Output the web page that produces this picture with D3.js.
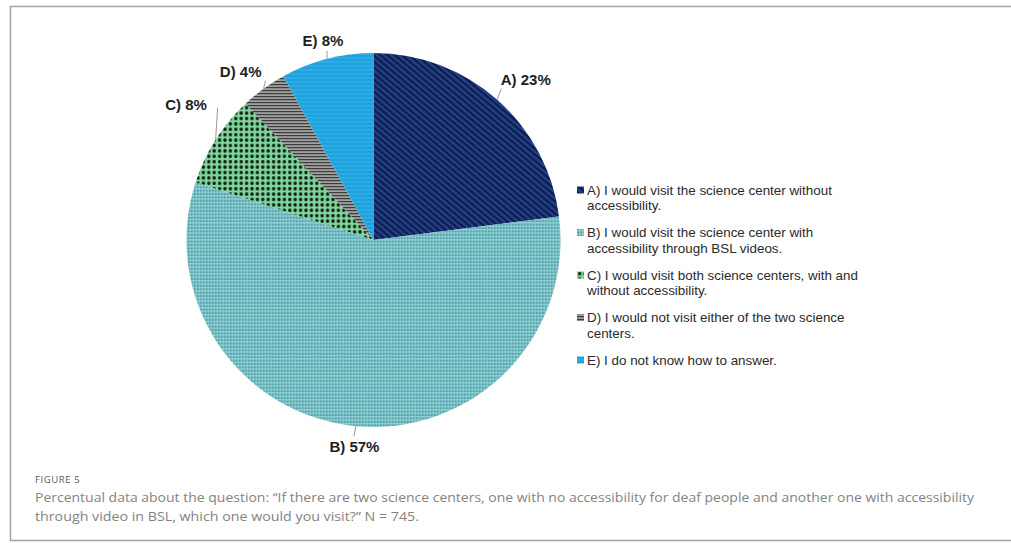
<!DOCTYPE html>
<html>
<head>
<meta charset="utf-8">
<script src="https://cdn.jsdelivr.net/npm/d3@7"></script>
<style>
  html, body { margin: 0; padding: 0; background: #fff; }
  svg { display: block; }
</style>
</head>
<body>
<svg id="chart" width="1011" height="543"></svg>
<script>
// Survey answers: share of respondents (%) per option
const categories = ["A", "B", "C", "D", "E"];
const values = [23, 57, 8, 4, 8];
const legendLabels = [
  ["A) I would visit the science center without", "accessibility."],
  ["B) I would visit the science center with", "accessibility through BSL videos."],
  ["C) I would visit both science centers, with and", "without accessibility."],
  ["D) I would not visit either of the two science", "centers."],
  ["E) I do not know how to answer."]
];
const captionTitle = "FIGURE 5";
const captionLines = [
  "Percentual data about the question: \u201CIf there are two science centers, one with no accessibility for deaf people and another one with accessibility",
  "through video in BSL, which one would you visit?\u201D N = 745."
];

const svg = d3.select("#chart");
const defs = svg.append("defs");

// Fill patterns for each slice
function stripePattern(id, size, base, line, lineW, rotate) {
  const p = defs.append("pattern").attr("id", id)
    .attr("patternUnits", "userSpaceOnUse")
    .attr("width", size).attr("height", size)
    .attr("patternTransform", `rotate(${rotate})`);
  p.append("rect").attr("width", size).attr("height", size).attr("fill", base);
  p.append("rect").attr("y", 0).attr("width", size).attr("height", lineW).attr("fill", line);
}
stripePattern("pat-A", 4.6, "#22408c", "#0e1c48", 2.2, 40);
// B: fine dot grid
(function () {
  const p = defs.append("pattern").attr("id", "pat-B")
    .attr("patternUnits", "userSpaceOnUse").attr("width", 3).attr("height", 3.4);
  p.append("rect").attr("width", 3).attr("height", 3.4).attr("fill", "#94d6da");
  p.append("rect").attr("x", 0.5).attr("y", 0.5).attr("width", 1.6).attr("height", 2.2).attr("fill", "#3f8e96");
})();
// C: large black dots on green
(function () {
  const p = defs.append("pattern").attr("id", "pat-C")
    .attr("patternUnits", "userSpaceOnUse").attr("width", 5.4).attr("height", 5.4);
  p.append("rect").attr("width", 5.4).attr("height", 5.4).attr("fill", "#7fd69c");
  p.append("circle").attr("cx", 2.7).attr("cy", 2.7).attr("r", 1.7).attr("fill", "#0d1a12");
})();
stripePattern("pat-D", 3, "#a0a0a0", "#3c3c3c", 1.2, 0);
// E: light wavy horizontal lines on blue
(function () {
  const p = defs.append("pattern").attr("id", "pat-E")
    .attr("patternUnits", "userSpaceOnUse").attr("width", 4).attr("height", 4);
  p.append("rect").attr("width", 4).attr("height", 4).attr("fill", "#1ea2de");
  p.append("path").attr("d", "M0,2.5 L1,1.5 L2,2.5 L3,1.5 L4,2.5")
    .attr("fill", "none").attr("stroke", "#4cbdf0").attr("stroke-width", 0.9);
})();

// Frame
svg.append("rect")
  .attr("x", 10.5).attr("y", 6.5).attr("width", 1010).attr("height", 534)
  .attr("fill", "none").attr("stroke", "#a3a3a3").attr("stroke-width", 1.5);

// Pie
const cx = 373.5, cy = 240, r = 187;
const pie = d3.pie().sort(null).value(d => d)(values);
const arc = d3.arc().innerRadius(0).outerRadius(r);
const g = svg.append("g").attr("transform", `translate(${cx},${cy})`);

g.selectAll("path.slice").data(pie).join("path")
  .attr("class", "slice")
  .attr("d", arc)
  .attr("fill", (d, i) => `url(#pat-${categories[i]})`);

// Data labels with short leader lines
const polar = (rad, a) => [rad * Math.sin(a), -rad * Math.cos(a)];
const labelNudge = [[-7, -2.5], [0, 9.5], [-16, -21.5], [-13.5, 1.5], [0, 2.5]];
const labelAnchor = ["start", "middle", "middle", "middle", "middle"];
const leaderVec = [[4, -11], [-2, 10], [2, -32], [2, -8], [0, -8]];

pie.forEach((d, i) => {
  const a = (d.startAngle + d.endAngle) / 2;
  const e = polar(r, a);
  g.append("line")
    .attr("x1", e[0]).attr("y1", e[1])
    .attr("x2", e[0] + leaderVec[i][0]).attr("y2", e[1] + leaderVec[i][1])
    .attr("stroke", "#9a9a9a").attr("stroke-width", 1);
  const p = polar(r + 16, a);
  g.append("text")
    .attr("x", p[0] + labelNudge[i][0]).attr("y", p[1] + labelNudge[i][1])
    .attr("text-anchor", labelAnchor[i])
    .attr("font-family", "'Liberation Sans', Arial, sans-serif")
    .attr("font-weight", "bold").attr("font-size", 15)
    .attr("fill", "#1e1e1e")
    .text(`${categories[i]}) ${values[i]}%`);
});

// Legend
const legend = svg.append("g").attr("transform", "translate(577,190)");
const entryY = d3.scalePoint().domain(categories).range([0, 170]);
categories.forEach((c, i) => {
  const y = entryY(c);
  legend.append("rect")
    .attr("x", 0).attr("y", y - 3.5).attr("width", 7).attr("height", 7)
    .attr("fill", `url(#pat-${c})`);
  const t = legend.append("text")
    .attr("font-family", "'Liberation Sans', Arial, sans-serif")
    .attr("font-size", 13.4).attr("fill", "#2a2a2a");
  legendLabels[i].forEach((line, j) => {
    t.append("tspan").attr("x", 10).attr("y", y + 4.5 + j * 15.5).text(line);
  });
});

// Caption
svg.append("text")
  .attr("x", 35).attr("y", 483)
  .attr("font-family", "'Open Sans', sans-serif").attr("font-size", 9.5)
  .attr("letter-spacing", 0.6).attr("fill", "#5a5a5a")
  .text(captionTitle);
const capWidths = [939, 384];
captionLines.forEach((line, i) => {
  svg.append("text")
    .attr("x", 35).attr("y", 502 + i * 18.5)
    .attr("font-family", "'Open Sans', sans-serif").attr("font-size", 13.5)
    .attr("fill", "#838383")
    .attr("textLength", capWidths[i]).attr("lengthAdjust", "spacingAndGlyphs")
    .text(line);
});
</script>
</body>
</html>
